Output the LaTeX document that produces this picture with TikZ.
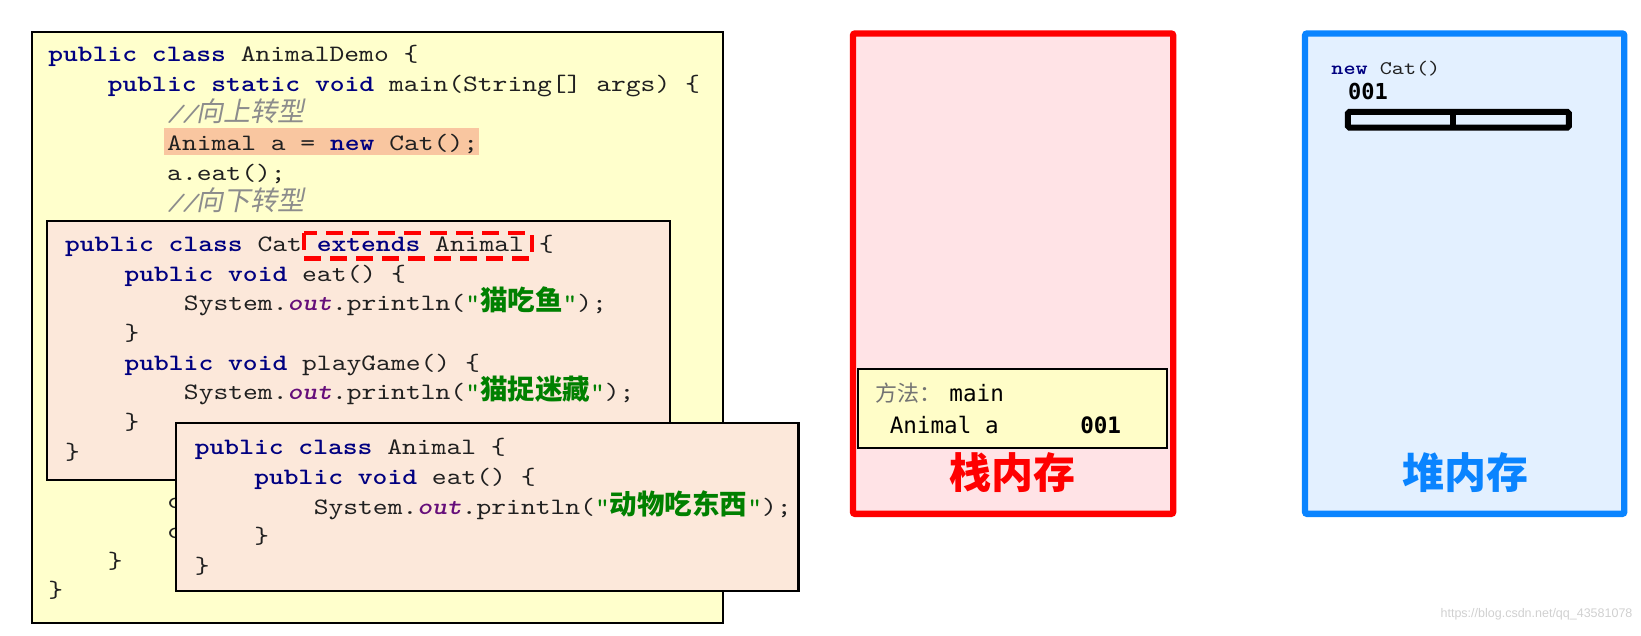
\documentclass[tikz,border=0pt]{standalone}
\usepackage{fontspec}
\setmonofont{lmmono10-regular.otf}[FakeStretch=1.2,
  BoldFont=lmmonolt10-bold.otf,
  ItalicFont=lmmono10-italic.otf,
  BoldItalicFont=lmmonolt10-boldoblique.otf]
\newfontfamily\cjk{Noto Sans CJK SC}
\newfontfamily\cjkit{Noto Sans CJK SC}[FakeSlant=0.2]
\newfontfamily\dvm{DejaVu Sans Mono}
\newfontfamily\wmfont{Liberation Sans}
\definecolor{kwc}{HTML}{000080}
\definecolor{cmc}{HTML}{8C8C8C}
\definecolor{strc}{HTML}{008000}
\definecolor{outc}{HTML}{660E7A}
\definecolor{ybg}{HTML}{FFFFCC}
\definecolor{pbg}{HTML}{FCE8DA}
\definecolor{hlc}{HTML}{F9C6A0}
\definecolor{txt}{HTML}{202020}
\definecolor{stkred}{HTML}{FF0000}
\definecolor{stkbg}{HTML}{FFE3E6}
\definecolor{heapblue}{HTML}{0A84FF}
\definecolor{heapbg}{HTML}{E3F0FF}
\definecolor{framey}{HTML}{FFFDC8}
\definecolor{wmc}{HTML}{D0D0D0}
\newcommand\jk[1]{{\bfseries\color{kwc}#1}}
\newcommand\jc[1]{{\itshape\color{cmc}//{\cjkit\fontsize{27}{28}\selectfont #1}}}
\newcommand\js[1]{{\color{strc}"{\cjk\bfseries\fontsize{27.5}{28}\selectfont #1}"}}
\newcommand\jo{{\bfseries\itshape\color{outc}out}}
\tikzset{
  code/.style={anchor=base west, inner sep=0pt, text=txt,
    font=\ttfamily\fontsize{23.5}{28}\selectfont},
  panel/.style={draw=black, line width=2.2pt},
  memlabel/.style={inner sep=0pt, font=\cjk\bfseries\fontsize{42}{46}\selectfont},
  stacktxt/.style={anchor=base west, inner sep=0pt, text=black,
    font=\dvm\fontsize{22.6}{26}\selectfont},
}
\begin{document}
\begin{tikzpicture}[x=1.0466pt,y=-1.0466pt]
\useasboundingbox (0,0) rectangle (1568,607);
% ---- AnimalDemo (yellow)
\path[panel, fill=ybg] (30.5,30.5) rectangle (690.5,595.5);
\fill[hlc] (157,122.5) rectangle (458,148);
\node[code] (y1) at (46,59) {\jk{public class} AnimalDemo \{};
\node[code] (y2) at (102.8,87.4) {\jk{public static void} main(String[] args) \{};
\node[code] (y3) at (159.6,115.8) {\jc{向上转型}};
\node[code] (y4) at (159.6,144.2) {Animal a = \jk{new} Cat();};
\node[code] (y5) at (159.6,172.6) {a.eat();};
\node[code] (y6) at (159.6,201) {\jc{向下转型}};
\node[code] (y7) at (159.6,486) {c};
\node[code] (y8) at (159.6,514.4) {c};
\node[code] (y9) at (102.8,542.8) {\}};
\node[code] (y10) at (46,571.2) {\}};
% ---- Cat
\path[panel, fill=pbg] (45,211.5) rectangle (640,458.5);
\node[code] (c1) at (62,240.5) {\jk{public class} Cat \jk{extends} Animal \{};
\node[code] (c2) at (118.8,268.8) {\jk{public void} eat() \{};
\node[code] (c3) at (175.6,297.1) {System.\jo.println(\js{猫吃鱼});};
\node[code] (c4) at (118.8,325.4) {\}};
\node[code] (c5) at (118.8,353.7) {\jk{public void} playGame() \{};
\node[code] (c6) at (175.6,382) {System.\jo.println(\js{猫捉迷藏});};
\node[code] (c7) at (118.8,410.3) {\}};
\node[code] (c8) at (62,438.6) {\}};
\draw[stkred, line width=4.2pt, dash pattern=on 17pt off 9pt] (290.5,222.5) rectangle (508,247);
% ---- Animal
\path[panel, fill=pbg] (168,404.5) rectangle (763,565);
\node[code] (a1) at (186,434.5) {\jk{public class} Animal \{};
\node[code] (a2) at (242.8,462.9) {\jk{public void} eat() \{};
\node[code] (a3) at (299.6,491.3) {System.\jo.println(\js{动物吃东西});};
\node[code] (a4) at (242.8,519.7) {\}};
\node[code] (a5) at (186,548.1) {\}};
% ---- Stack
\draw[stkred, line width=6.3pt, fill=stkbg, rounded corners=2pt] (815,32) rectangle (1121,491);
\draw[black, line width=2.2pt, fill=framey] (820,352.5) rectangle (1115,428);
\node[anchor=base west, inner sep=0pt, font=\cjk\fontsize{22}{26}\selectfont, text=black!55] (s1) at (836,384) {方法：};
\node[stacktxt] (s2) at (907,384) {main};
\node[stacktxt] (s3) at (850,414) {Animal a};
\node[stacktxt, font=\dvm\bfseries\fontsize{22.6}{26}\selectfont] (s4) at (1032,414) {001};
\node[memlabel, text=stkred] (stacklbl) at (967,452) {栈内存};
% ---- Heap
\draw[heapblue, line width=6.3pt, fill=heapbg, rounded corners=2pt] (1247,32) rectangle (1552,491);
\node[anchor=base west, inner sep=0pt, text=txt, font=\ttfamily\fontsize{19.2}{24}\selectfont] (h1) at (1272,71.5) {\jk{new} Cat()};
\node[anchor=base west, inner sep=0pt, text=black, font=\dvm\bfseries\fontsize{22}{26}\selectfont] (h2) at (1288,95.5) {001};
\draw[black, line width=6pt, rounded corners=1.5pt, fill=heapbg] (1288,107) rectangle (1499,122);
\draw[black, line width=6pt] (1388,107) -- (1388,122);
\node[memlabel, text=heapblue] (heaplbl) at (1400,452) {堆内存};
% ---- watermark
\node[anchor=east, inner sep=0pt, text=wmc, font=\wmfont\fontsize{12.5}{14}\selectfont] (wm) at (1560,587) {https://blog.csdn.net/qq\_43581078};
\end{tikzpicture}
\end{document}
